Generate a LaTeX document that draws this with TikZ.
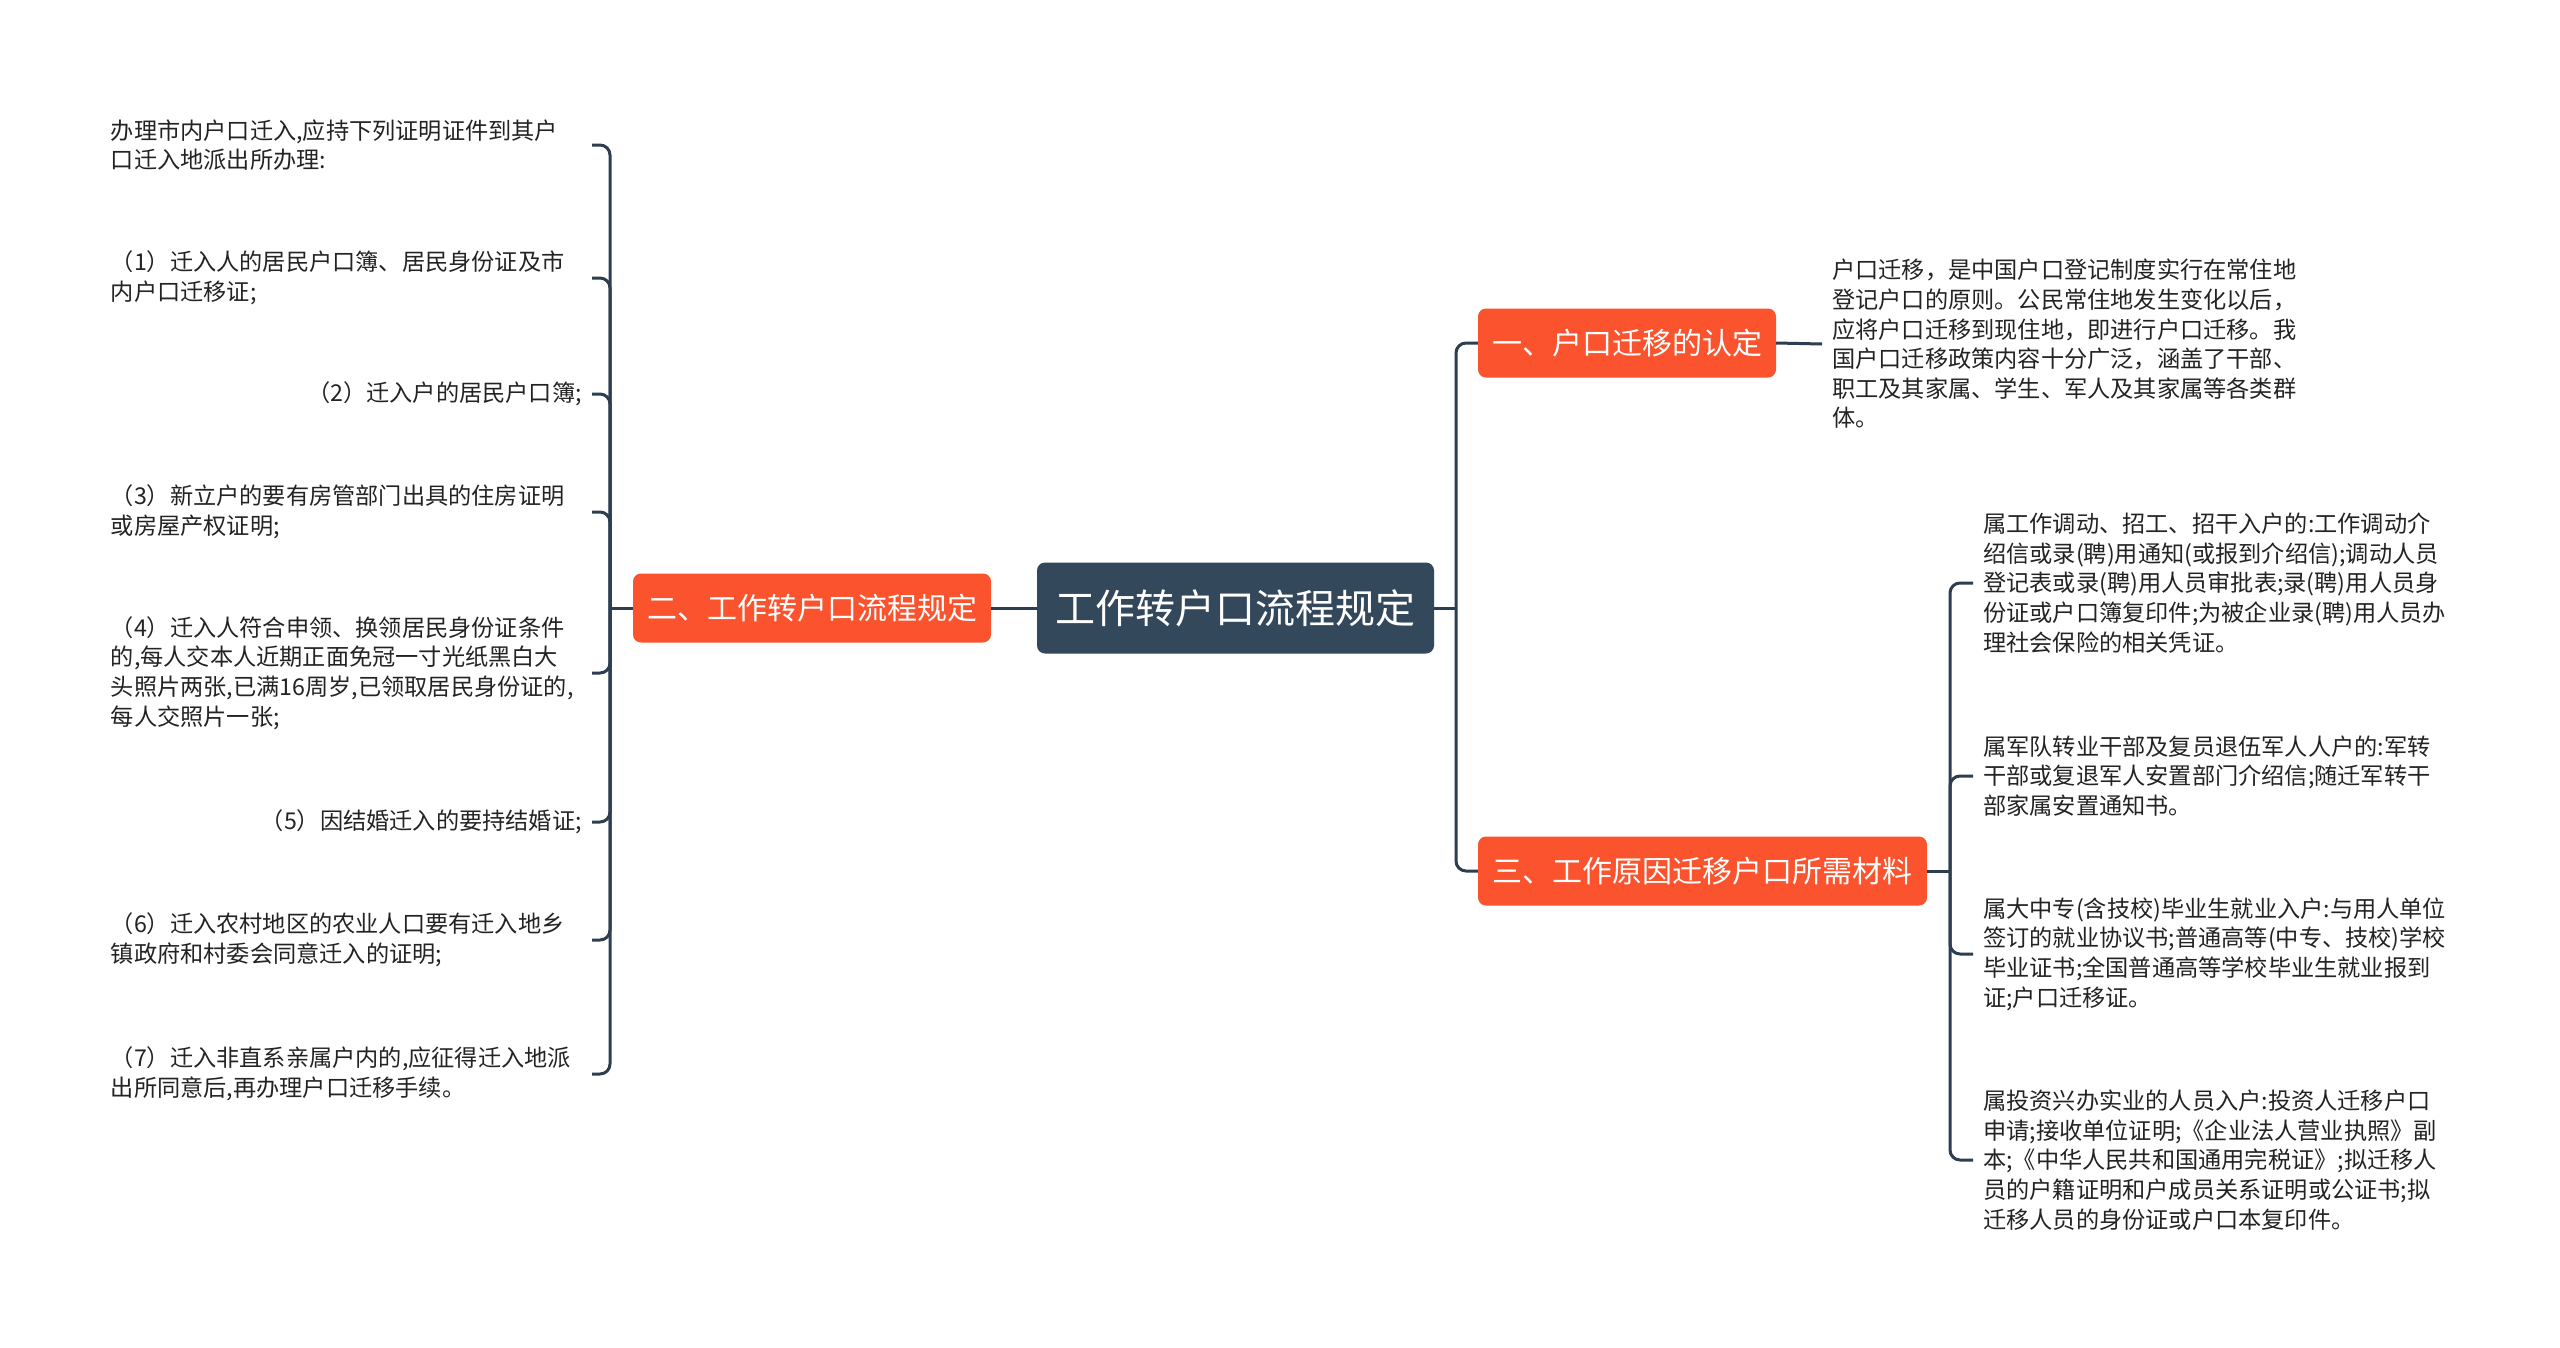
\documentclass[tikz,border=0pt]{standalone}
\usepackage{fontspec}
\newfontfamily\cjk{Noto Sans CJK SC}
\usetikzlibrary{positioning}
\definecolor{rootc}{RGB}{52,72,92}
\definecolor{brc}{RGB}{250,83,45}
\definecolor{lnc}{RGB}{44,62,80}
\definecolor{txc}{RGB}{35,35,35}
\tikzset{
  root/.style={rectangle,rounded corners=8pt,fill=rootc,text=white,
    minimum width=397pt,minimum height=91pt,inner sep=0pt,
    font=\cjk\fontsize{40}{48}\selectfont},
  branch/.style={rectangle,rounded corners=8pt,fill=brc,text=white,
    minimum height=69pt,inner sep=0pt,font=\cjk\fontsize{30}{36}\selectfont},
  leaf/.style={inner xsep=10pt,inner ysep=0pt,text=txc,align=left,
    font=\cjk\fontsize{23.2}{29.6}\selectfont},
  leafw/.style={leaf,text width=471pt},
  link/.style={draw=lnc,line width=3pt,rounded corners=10pt},
}
\begin{document}
\begin{tikzpicture}[x=1pt,y=-1pt]
\fill[white] (0,0) rectangle (2560,1347);
\useasboundingbox (0,0) rectangle (2560,1347);

% --- centre and main branches ---
\node[root] (root) at (1235.5,608) {工作转户口流程规定};
\node[branch,minimum width=358pt] (b2) at (812,608) {二、工作转户口流程规定};
\node[branch,minimum width=298pt] (b1) at (1627,343) {一、户口迁移的认定};
\node[branch,minimum width=449pt] (b3) at (1702.5,871) {三、工作原因迁移户口所需材料};

\coordinate (jL) at (610,608);
\coordinate (jR) at (1456,608);
\coordinate (j3) at (1950,871);

% --- left leaves ---
\node[leafw,anchor=east] (L0) at (592,145) {办理市内户口迁入,应持下列证明证件到其户\\口迁入地派出所办理:};
\node[leafw,anchor=east] (L1) at (592,278) {（1）迁入人的居民户口簿、居民身份证及市\\内户口迁移证;};
\node[leaf,anchor=east] (L2) at (592,394) {（2）迁入户的居民户口簿;};
\node[leafw,anchor=east] (L3) at (592,512) {（3）新立户的要有房管部门出具的住房证明\\或房屋产权证明;};
\node[leafw,anchor=east] (L4) at (592,673) {（4）迁入人符合申领、换领居民身份证条件\\的,每人交本人近期正面免冠一寸光纸黑白大\\头照片两张,已满16周岁,已领取居民身份证的,\\每人交照片一张;};
\node[leaf,anchor=east] (L5) at (592,822) {（5）因结婚迁入的要持结婚证;};
\node[leafw,anchor=east] (L6) at (592,940) {（6）迁入农村地区的农业人口要有迁入地乡\\镇政府和村委会同意迁入的证明;};
\node[leafw,anchor=east] (L7) at (592,1074) {（7）迁入非直系亲属户内的,应征得迁入地派\\出所同意后,再办理户口迁移手续。};

% --- right leaves ---
\node[leaf,anchor=west] (R0) at (1822,344) {户口迁移，是中国户口登记制度实行在常住地\\登记户口的原则。公民常住地发生变化以后，\\应将户口迁移到现住地，即进行户口迁移。我\\国户口迁移政策内容十分广泛，涵盖了干部、\\职工及其家属、学生、军人及其家属等各类群\\体。};
\node[leaf,anchor=west] (R1) at (1973,583) {属工作调动、招工、招干入户的:工作调动介\\绍信或录(聘)用通知(或报到介绍信);调动人员\\登记表或录(聘)用人员审批表;录(聘)用人员身\\份证或户口簿复印件;为被企业录(聘)用人员办\\理社会保险的相关凭证。};
\node[leaf,anchor=west] (R2) at (1973,776) {属军队转业干部及复员退伍军人人户的:军转\\干部或复退军人安置部门介绍信;随迁军转干\\部家属安置通知书。};
\node[leaf,anchor=west] (R3) at (1973,954) {属大中专(含技校)毕业生就业入户:与用人单位\\签订的就业协议书;普通高等(中专、技校)学校\\毕业证书;全国普通高等学校毕业生就业报到\\证;户口迁移证。};
\node[leaf,anchor=west] (R4) at (1973,1160) {属投资兴办实业的人员入户:投资人迁移户口\\申请;接收单位证明;《企业法人营业执照》副\\本;《中华人民共和国通用完税证》;拟迁移人\\员的户籍证明和户成员关系证明或公证书;拟\\迁移人员的身份证或户口本复印件。};

% --- connectors ---
\draw[link] (root.west) -- (b2.east);
\draw[link] (b2.west) -- (jL);
\foreach \n in {0,...,7}
  \draw[link] (jL) |- (L\n.east);
\draw[link] (root.east) -- (jR);
\draw[link] (jR) |- (b1.west);
\draw[link] (jR) |- (b3.west);
\draw[link] (b1.east) -- (R0.west);
\draw[link] (b3.east) -- (j3);
\foreach \n in {1,...,4}
  \draw[link] (j3) |- (R\n.west);
\end{tikzpicture}
\end{document}
